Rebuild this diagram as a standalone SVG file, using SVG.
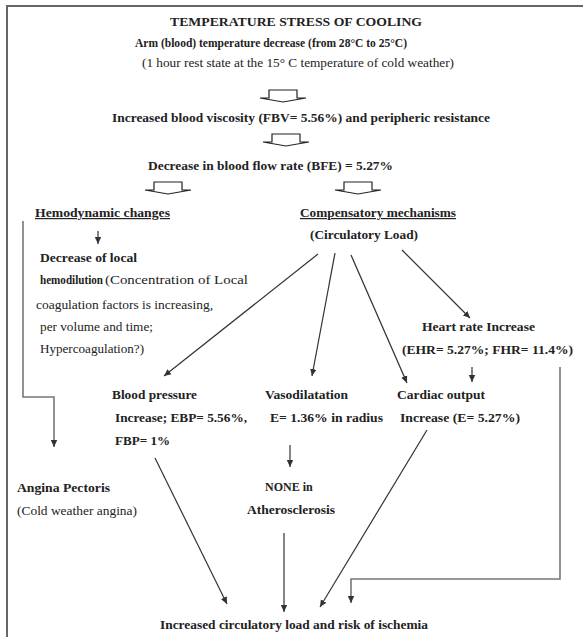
<svg xmlns="http://www.w3.org/2000/svg" width="583" height="637" viewBox="0 0 583 637">
<defs>
<style>
text{font-family:"Liberation Serif","Times New Roman",serif;fill:#222;}
.b{font-weight:bold;font-size:12px;}
.n{font-weight:normal;font-size:11.5px;}
.u{text-decoration:underline;}
.ln{stroke:#333;stroke-width:1.2;fill:none;}
.gl{stroke:#777;stroke-width:1.6;fill:none;}
.blk{fill:#fff;stroke:#222;stroke-width:1.2;}
</style>
<marker id="ah" markerWidth="8" markerHeight="8" refX="7" refY="4" orient="auto" markerUnits="userSpaceOnUse">
<path d="M0,0.8 L7,4 L0,7.2 Z" fill="#333"/>
</marker>
<polygon id="blkarrow" class="blk" points="-14,0 14,0 14,8 23,8 0,12 -23,8 -14,8"/>
</defs>
<rect width="583" height="637" fill="#fff"/>
<path d="M7,637 V6 H583" stroke="#666" stroke-width="2" fill="none"/>

<g id="title">
<text class="b" x="170" y="26" textLength="252" lengthAdjust="spacingAndGlyphs">TEMPERATURE STRESS OF COOLING</text>
<text class="b" x="135" y="47" textLength="272" lengthAdjust="spacingAndGlyphs">Arm (blood) temperature decrease (from 28°C to 25°C)</text>
<text class="n" x="142" y="67" textLength="312" lengthAdjust="spacingAndGlyphs">(1 hour rest state at the 15° C temperature of cold weather)</text>
</g>
<g id="viscosity">
<text class="b" x="112" y="122" textLength="378" lengthAdjust="spacingAndGlyphs">Increased blood viscosity (FBV= 5.56%) and peripheric resistance</text>
</g>
<g id="flowrate">
<text class="b" x="148" y="170" textLength="245" lengthAdjust="spacingAndGlyphs">Decrease in blood flow rate (BFE) = 5.27%</text>
</g>
<g id="hemodynamic">
<text class="b u" x="35" y="217" textLength="135" lengthAdjust="spacingAndGlyphs">Hemodynamic changes</text>
</g>
<g id="compensatory">
<text class="b u" x="300" y="217" textLength="156" lengthAdjust="spacingAndGlyphs">Compensatory mechanisms</text>
<text class="b" x="310" y="239" textLength="108" lengthAdjust="spacingAndGlyphs">(Circulatory Load)</text>
</g>
<g id="hemodilution">
<text class="b" x="40" y="262" textLength="97" lengthAdjust="spacingAndGlyphs">Decrease of local</text>
<text class="b" x="40" y="284" textLength="63" lengthAdjust="spacingAndGlyphs">hemodilution</text>
<text class="n" x="105" y="284" style="font-size:13px" textLength="143" lengthAdjust="spacingAndGlyphs">(Concentration of Local</text>
<text class="n" x="36" y="309" textLength="177" lengthAdjust="spacingAndGlyphs">coagulation factors is increasing,</text>
<text class="n" x="40" y="331" textLength="113" lengthAdjust="spacingAndGlyphs">per volume and time;</text>
<text class="n" x="40" y="353" textLength="104" lengthAdjust="spacingAndGlyphs">Hypercoagulation?)</text>
</g>
<g id="heartrate">
<text class="b" x="422" y="331" textLength="113" lengthAdjust="spacingAndGlyphs">Heart rate Increase</text>
<text class="b" x="402" y="354" textLength="171" lengthAdjust="spacingAndGlyphs">(EHR= 5.27%; FHR= 11.4%)</text>
</g>
<g id="bloodpressure">
<text class="b" x="112" y="399" textLength="85" lengthAdjust="spacingAndGlyphs">Blood pressure</text>
<text class="b" x="115" y="422" textLength="132" lengthAdjust="spacingAndGlyphs">Increase; EBP= 5.56%,</text>
<text class="b" x="115" y="445" textLength="55" lengthAdjust="spacingAndGlyphs">FBP= 1%</text>
</g>
<g id="vasodilatation">
<text class="b" x="265" y="399" textLength="83" lengthAdjust="spacingAndGlyphs">Vasodilatation</text>
<text class="b" x="270" y="422" textLength="113" lengthAdjust="spacingAndGlyphs">E= 1.36% in radius</text>
</g>
<g id="none">
<text class="b" x="265" y="491">NONE in</text>
<text class="b" x="247" y="514" textLength="88" lengthAdjust="spacingAndGlyphs">Atherosclerosis</text>
</g>
<g id="cardiac">
<text class="b" x="397" y="399" textLength="88" lengthAdjust="spacingAndGlyphs">Cardiac output</text>
<text class="b" x="400" y="422" textLength="120" lengthAdjust="spacingAndGlyphs">Increase (E= 5.27%)</text>
</g>
<g id="angina">
<text class="b" x="17" y="492" textLength="93" lengthAdjust="spacingAndGlyphs">Angina Pectoris</text>
<text class="n" x="17" y="515" textLength="120" lengthAdjust="spacingAndGlyphs">(Cold weather angina)</text>
</g>
<g id="ischemia">
<text class="b" x="160" y="629" textLength="268" lengthAdjust="spacingAndGlyphs">Increased circulatory load and risk of ischemia</text>
</g>

<g id="connectors">
<use href="#blkarrow" x="283" y="90"/>
<use href="#blkarrow" x="286" y="134"/>
<use href="#blkarrow" x="168" y="182"/>
<use href="#blkarrow" x="358" y="182"/>
<line class="ln" x1="98" y1="231" x2="98" y2="244" marker-end="url(#ah)"/>
<path class="gl" d="M23,221 V397 H54 V447" marker-end="url(#ah)"/>
<line class="ln" x1="318" y1="254" x2="164" y2="376" marker-end="url(#ah)"/>
<line class="ln" x1="335" y1="253" x2="312" y2="376" marker-end="url(#ah)"/>
<line class="ln" x1="351" y1="255" x2="407" y2="383" marker-end="url(#ah)"/>
<line class="ln" x1="402" y1="250" x2="470" y2="318" marker-end="url(#ah)"/>
<line class="ln" x1="472" y1="367" x2="472" y2="382" marker-end="url(#ah)"/>
<line class="ln" x1="290" y1="445" x2="290" y2="467" marker-end="url(#ah)"/>
<line class="ln" x1="155" y1="458" x2="227" y2="604" marker-end="url(#ah)"/>
<line class="ln" x1="284" y1="533" x2="284" y2="612" marker-end="url(#ah)"/>
<line class="ln" x1="427" y1="430" x2="320" y2="607" marker-end="url(#ah)"/>
<path class="gl" d="M560,367 V579 H351 V603" marker-end="url(#ah)"/>
</g>
</svg>
